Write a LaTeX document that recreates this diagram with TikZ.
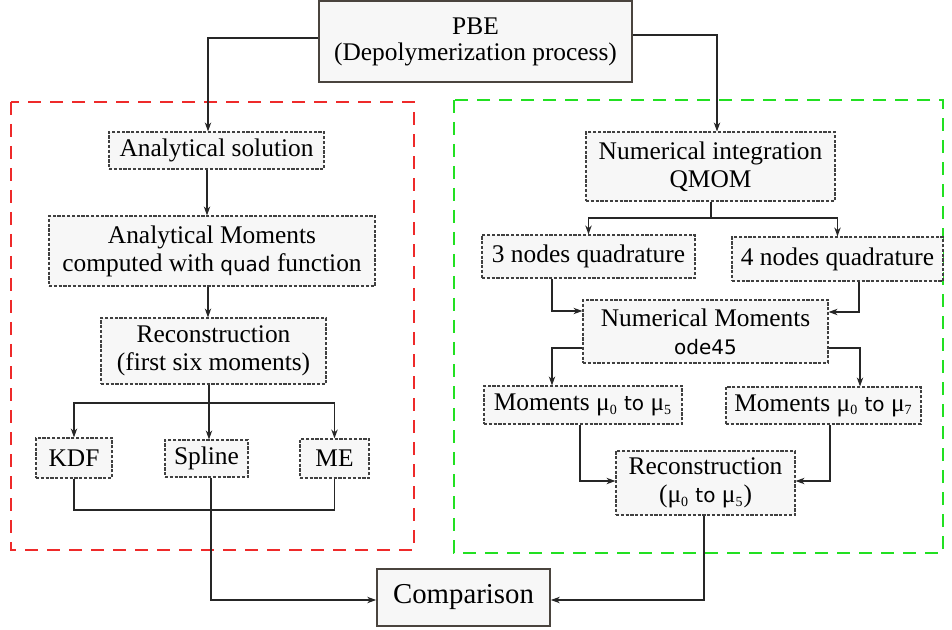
\documentclass[tikz,border=0pt]{standalone}
\usepackage{fontspec}
\setmainfont{Liberation Serif}
\newfontfamily\dv{DejaVu Sans}
\usetikzlibrary{arrows.meta}
\definecolor{boxfill}{HTML}{F7F7F7}
\definecolor{redframe}{HTML}{EE2A2A}
\definecolor{greenframe}{HTML}{22E022}
\definecolor{solidedge}{HTML}{4A443E}
\newcommand\bx[7]{\node[#6, minimum width={(#4-#2)*0.5pt}, minimum height={(#5-#3)*0.5pt}] (#1) at ({(#2+#4)/2},{(#3+#5)/2}) {#7};}
\newcommand\mysub[1]{\textsubscript{\fontsize{7}{7}\selectfont #1}}
\newcommand\mumu[1]{μ\mysub{#1}}
\newcommand\tto{{\dv\fontsize{10}{12}\selectfont to}}
\newcommand\sanss[1]{{\dv\fontsize{10}{12}\selectfont #1}}
\begin{document}
\begin{tikzpicture}[x=0.5pt,y=-0.5pt,
 dbox/.style={draw=black!75, dash pattern=on 1.6pt off 0.8pt, line width=0.55pt, fill=boxfill, inner sep=0pt, align=center, font=\fontsize{12.7}{14}\selectfont},
 sbox/.style={draw=solidedge, line width=0.8pt, fill=boxfill, inner sep=0pt, align=center, font=\fontsize{12.7}{13}\selectfont},
 conn/.style={draw=black!85, line width=0.7pt},
 arr/.style={conn, -{Stealth[length=4.5pt,width=3.2pt]}},
 heavy/.style={line width=1.2pt},
 frame/.style={line width=1.1pt, dash pattern=on 6.5pt off 4.5pt}]
\useasboundingbox (0,0) rectangle (952,630);
% frames
\draw[frame, draw=redframe] (11,102) rectangle (414,550);
\draw[frame, draw=greenframe] (454,100) rectangle (943,553);
% nodes
\bx{pbe}{319}{1}{632}{82}{sbox}{PBE\\(Depolymerization process)}
\bx{cmp}{377}{569}{550}{626}{sbox, font=\fontsize{14.4}{16}\selectfont}{Comparison}
\bx{as}{109}{132}{324}{169}{dbox}{Analytical solution}
\bx{am}{49}{216}{375}{286}{dbox}{Analytical Moments\\computed with \sanss{quad} function}
\bx{rec}{101}{318}{326}{384}{dbox}{Reconstruction\\(first six moments)}
\bx{kdf}{36}{438}{112}{478}{dbox}{KDF}
\bx{spl}{165}{440}{248}{477}{dbox}{Spline}
\bx{me}{300}{439}{369}{478}{dbox}{ME}
\bx{ni}{586}{132}{835}{201}{dbox}{Numerical integration\\QMOM}
\bx{qa}{482}{235}{695}{278}{dbox}{3 nodes quadrature}
\bx{qb}{732}{237}{943}{281}{dbox}{4 nodes quadrature}
\bx{nm}{583}{300}{828}{363}{dbox}{Numerical Moments\\\sanss{ode45}}
\bx{ma}{484}{386}{682}{424}{dbox}{Moments \mumu{0} \tto{} \mumu{5}}
\bx{mb}{726}{387}{921}{424}{dbox}{Moments \mumu{0} \tto{} \mumu{7}}
\bx{rc}{616}{451}{795}{515}{dbox}{Reconstruction\\(\mumu{0} \tto{} \mumu{5})}
% connectors left
\draw[arr] (pbe.west |- 0,38) -| (208,0 |- as.north);
\draw[arr] (pbe.east |- 0,35) -| (717,0 |- ni.north);
\draw[arr] (207,0 |- as.south) -- (207,0 |- am.north);
\draw[arr] (208,0 |- am.south) -- (208,0 |- rec.north);
\coordinate (lb) at (209,403);
\draw[arr] (209,0 |- rec.south) -- (209,0 |- spl.north);
\draw[arr] (lb) -| (kdf.north);
\draw[arr] (lb) -| (me.north);
\draw[conn] (kdf.south) |- (me.south |- 0,510) -- (me.south);
\draw[arr, heavy] (211,0 |- spl.south) |- (cmp.west |- 0,600);
% connectors right
\coordinate (rb) at (711,218);
\draw[conn] (711,0 |- ni.south) -- (rb);
\draw[arr] (rb) -| (qa.north);
\draw[arr] (rb) -| (qb.north);
\draw[arr] (552,0 |- qa.south) |- (nm.west |- 0,311);
\draw[arr] (859,0 |- qb.south) |- (nm.east |- 0,312);
\draw[arr] (nm.west |- 0,348) -| (552,0 |- ma.north);
\draw[arr] (nm.east |- 0,348) -| (860,0 |- mb.north);
\draw[arr] (580,0 |- ma.south) |- (rc.west |- 0,481);
\draw[arr] (830,0 |- mb.south) |- (rc.east |- 0,481);
\draw[arr, heavy] (704,0 |- rc.south) |- (cmp.east |- 0,600);
\end{tikzpicture}
\end{document}
